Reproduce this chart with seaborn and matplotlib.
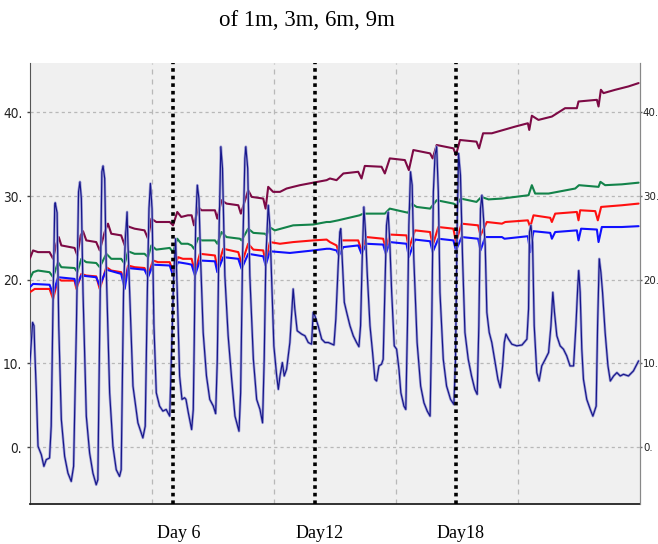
import matplotlib
matplotlib.use("Agg")
import matplotlib.pyplot as plt
from matplotlib import font_manager
import seaborn as sns
from matplotlib.transforms import offset_copy

# ---------------- text / layout data ----------------
title_text = "of 1m, 3m, 6m, 9m"
day_marks = [6, 12, 18]
day_labels = ["Day 6", "Day12", "Day18"]
grid_days = [5.08, 10.28, 15.44, 20.63]
ytick_vals = [0, 10, 20, 30, 40]
ytick_labels = ["0.", "10.", "20.", "30.", "40."]
x_range = (-0.08, 25.81)
y_range = (-6.8, 45.9)

# ---------------- series (days, temperature) ----------------
t_1m = [-0.09, 0.03, 0.09, 0.12, 0.19, 0.26, 0.40, 0.51, 0.61, 0.75, 0.82, 0.90, 0.97, 0.99, 1.07, 1.14, 1.25,
        1.39, 1.53, 1.67, 1.77, 1.89, 1.98, 2.04, 2.10, 2.17, 2.31, 2.45, 2.59, 2.73, 2.80, 2.88, 2.97, 3.02,
        3.09, 3.16, 3.30, 3.44, 3.58, 3.72, 3.79, 3.89, 3.96, 4.04, 4.08, 4.15, 4.29, 4.50, 4.71, 4.81, 4.90,
        4.97, 5.03, 5.10, 5.18, 5.28, 5.42, 5.56, 5.70, 5.85, 5.92, 6.02, 6.10, 6.17, 6.27, 6.37, 6.48,
        6.54, 6.64, 6.78, 6.85, 6.89, 6.95, 7.02, 7.09, 7.16, 7.27, 7.41, 7.55, 7.70, 7.80, 7.87, 7.95, 8.02,
        8.09, 8.19, 8.33, 8.48, 8.62, 8.79, 8.86, 8.94, 9.04, 9.08, 9.16, 9.25, 9.40, 9.54, 9.68, 9.79, 9.86,
        9.93, 10.03, 10.10, 10.17, 10.27, 10.39, 10.46, 10.53, 10.63, 10.71, 10.81, 10.95, 11.09, 11.16, 11.26,
        11.45, 11.59, 11.73, 11.87, 11.94, 12.01, 12.15, 12.30, 12.44, 12.58,
        12.82, 12.90, 13.00, 13.07, 13.11, 13.17, 13.26, 13.36, 13.50, 13.64, 13.78, 13.88, 13.95, 14.02, 14.09,
        14.16, 14.23, 14.35, 14.46, 14.56, 14.63, 14.73, 14.84, 14.91, 14.98, 15.05, 15.12, 15.19, 15.27, 15.38,
        15.48, 15.58, 15.66, 15.79, 15.87, 15.94, 16.00, 16.07, 16.14, 16.21, 16.35, 16.50, 16.64, 16.78, 16.90,
        16.97, 17.04, 17.11, 17.18, 17.25, 17.32, 17.46, 17.60, 17.77, 17.91, 17.98, 18.05, 18.11, 18.19, 18.28,
        18.38, 18.52, 18.66, 18.80, 18.90, 18.97, 19.04, 19.10,
        19.17, 19.24, 19.31, 19.41, 19.52, 19.66, 19.78, 19.88, 19.98, 20.05, 20.12, 20.23, 20.37, 20.58, 20.80,
        21.01, 21.08, 21.12, 21.18, 21.25, 21.32, 21.43, 21.53, 21.64, 21.79, 21.93, 22.03, 22.11, 22.18, 22.28,
        22.42, 22.56, 22.70, 22.84, 22.99, 23.09, 23.17, 23.21, 23.27, 23.34, 23.41, 23.55, 23.70, 23.81, 23.95,
        24.01, 24.08, 24.15, 24.22, 24.33, 24.45, 24.55, 24.69, 24.83, 24.97, 25.11, 25.32, 25.53, 25.75]
v_1m = [9.7, 14.9, 14.5, 11.7, 6.5, 0.1, -0.9, -2.3, -1.5, -1.3, 2.5, 17.7, 28.9, 29.2, 28.0, 14.5, 3.3,
        -1.1, -3.1, -4.1, -2.3, 14.5, 30.5, 31.7, 29.7, 18.5, 3.7, -0.7, -3.1, -4.5, -3.9, 14.5, 32.9, 33.6,
        32.1, 20.9, 6.5, 0.1, -2.7, -3.5, -2.7, 18.5, 24.5, 28.1, 24.1, 18.5, 7.3, 2.9, 1.1, 2.5, 18.5,
        28.5, 31.5, 28.5, 14.5, 6.5, 4.9, 4.3, 4.5, 3.7, 10.5, 20.5, 24.9, 18.5, 8.5, 5.7, 5.9,
        5.7, 4.1, 2.1, 4.5, 12.5, 26.5, 31.3, 29.7, 22.5, 13.7, 8.5, 5.7, 4.9, 4.0, 10.5, 26.5, 35.9,
        33.3, 20.5, 13.3, 8.1, 3.7, 1.9, 6.5, 22.5, 34.5, 35.9, 33.3, 20.5, 10.5, 5.7, 4.5, 2.9, 10.5,
        22.5, 28.9, 26.5, 20.5, 12.1, 8.5, 6.9, 8.5, 10.1, 8.5, 9.3, 12.5, 18.9, 16.5, 13.9,
        13.5, 13.3, 12.5, 12.3, 16.1, 15.7, 14.5, 12.9, 12.5, 12.5,
        12.2, 15.3, 21.7, 25.7, 26.1, 22.5, 17.3, 16.1, 14.5, 13.3, 12.5, 12.0, 14.5, 22.5, 28.7,
        25.7, 20.9, 14.5, 11.3, 8.1, 7.9, 9.7, 9.9, 10.5, 18.5, 26.5, 28.1, 24.5, 18.5, 12.1,
        11.7, 9.3, 6.5, 4.9, 4.5, 14.5, 26.5, 32.9, 31.3, 22.5, 12.5, 7.3, 5.3, 4.3, 3.7,
        14.5, 30.5, 34.9, 35.9, 30.5, 18.5, 10.5, 7.3, 5.7, 5.1, 10.5, 26.5, 35.1, 32.5, 22.5,
        13.7, 10.5, 8.5, 6.9, 6.3, 14.5, 28.5, 30.1,
        27.3, 24.1, 16.1, 13.7, 12.5, 10.1, 8.1, 7.1, 9.7, 12.5, 13.5, 12.9, 12.3, 12.1, 12.2,
        12.9, 16.5, 25.7, 26.5, 24.5, 14.5, 8.9, 7.9, 9.7, 10.5, 11.3, 14.5, 18.5, 16.1, 13.3,
        12.1, 11.7, 10.9, 9.7, 9.7, 14.5, 19.3, 21.1, 18.5, 11.7, 8.1, 5.7, 4.5, 3.7, 4.9,
        14.5, 22.5, 20.9, 18.5, 13.7, 9.7, 7.9, 8.5, 8.9, 8.5, 8.7, 8.5, 9.1, 10.3]

t_3m = [-0.09, 0.05, 0.75, 0.90, 1.11, 1.81, 1.89, 2.10, 2.73, 2.88, 3.16, 3.79, 3.94, 4.08, 4.78, 4.93, 5.14,
        5.85, 5.99, 6.20, 6.62, 6.78, 6.92, 7.13, 7.77, 7.87, 8.12, 8.76, 8.90, 9.18, 9.82, 9.92, 10.10, 10.95,
        11.94, 12.51, 12.65, 12.93, 13.03, 13.22, 13.85, 13.99, 14.20, 14.91, 15.02, 15.19, 15.90, 16.00, 16.26,
        16.90, 17.01, 17.25, 17.89, 18.00, 18.24, 18.94, 19.04, 19.24, 19.95, 20.06, 21.05, 21.15, 21.29, 22.00,
        22.07, 22.21, 23.13, 23.20, 23.31, 23.98, 24.05, 24.19, 25.04, 25.75]
v_3m = [19.1, 19.5, 19.4, 18.3, 20.3, 20.1, 19.3, 20.5, 20.3, 19.3, 21.2, 20.7, 18.9, 21.4, 21.2, 20.3, 21.8,
        21.7, 20.5, 22.1, 21.9, 21.8, 20.5, 22.3, 22.2, 20.9, 22.7, 22.5, 21.3, 23.1, 22.8, 21.7, 23.4, 23.2,
        23.5, 23.7, 23.7, 23.5, 22.9, 23.9, 24.1, 23.1, 24.3, 24.2, 23.1, 24.5, 24.3, 22.7, 24.8,
        24.6, 23.3, 24.9, 24.7, 23.5, 25.1, 24.9, 23.5, 25.1, 25.1, 24.9, 25.2, 23.3, 25.8, 25.6,
        24.9, 25.7, 25.9, 24.7, 26.1, 26.0, 24.5, 26.3, 26.3, 26.4]

t_6m = [-0.09, 0.12, 0.75, 0.90, 1.11, 1.25, 1.81, 1.89, 2.10, 2.31, 2.73, 2.88, 3.16, 3.37, 3.79, 3.94, 4.08,
        4.36, 4.78, 4.93, 5.14, 5.35, 5.85, 5.99, 6.20, 6.41, 6.62, 6.78, 6.92, 7.13, 7.77, 7.87, 8.12, 8.76,
        8.90, 9.18, 9.40, 9.82, 9.92, 10.10, 10.53, 11.09, 11.94, 12.51, 12.65, 12.93, 13.00, 13.14, 13.85,
        13.99, 14.20, 14.91, 15.02, 15.19, 15.90, 16.00, 16.26, 16.90, 17.01, 17.25, 17.89, 18.00, 18.24, 18.94,
        19.04, 19.31, 19.95, 20.09, 21.05, 21.15, 21.29, 22.00, 22.07, 22.21, 23.13, 23.20, 23.27, 23.91, 24.02,
        24.16, 25.04, 25.75]
v_6m = [18.5, 18.9, 18.9, 17.7, 20.1, 19.9, 19.9, 18.9, 20.7, 20.5, 20.4, 18.9, 21.5, 21.1, 20.9, 19.7, 21.7,
        21.5, 21.4, 20.5, 22.3, 22.1, 22.1, 20.9, 22.7, 22.5, 22.5, 22.5, 20.9, 23.1, 22.9, 21.3, 23.7, 23.3,
        21.9, 24.3, 23.6, 23.5, 22.1, 24.5, 24.3, 24.5, 24.7, 24.8, 24.5, 24.1, 23.5, 24.7, 24.7,
        23.5, 25.1, 24.9, 23.7, 25.4, 25.3, 23.7, 25.9, 25.7, 24.1, 26.3, 26.1, 24.5, 26.7, 26.5,
        25.3, 26.9, 26.7, 26.9, 27.1, 26.3, 27.7, 27.4, 26.9, 27.9, 28.1, 27.1, 28.3, 28.2, 27.1,
        28.7, 28.9, 29.1]

t_9m = [-0.09, 0.05, 0.26, 0.75, 0.90, 1.11, 1.25, 1.81, 1.93, 2.10, 2.31, 2.73, 2.88, 3.16, 3.37, 3.79, 3.94,
        4.08, 4.36, 4.78, 4.93, 5.07, 5.28, 5.85, 5.99, 6.17, 6.34, 6.62, 6.78, 6.88, 7.06, 7.20, 7.77, 7.87,
        8.05, 8.26, 8.83, 8.90, 9.18, 9.40, 9.89, 9.96, 10.08, 10.31, 11.09, 11.94, 12.51, 12.65, 13.00, 13.91,
        14.06, 14.98, 15.19, 15.97, 16.11, 16.33, 16.90, 17.18, 17.89, 18.03, 18.20, 18.87, 19.08, 19.38, 19.95,
        21.08, 21.22, 21.36, 21.93, 23.06, 23.22, 24.05, 24.13, 24.33, 25.04, 25.75]
v_9m = [20.1, 20.9, 21.1, 20.9, 20.3, 22.1, 21.5, 21.4, 20.9, 22.5, 22.1, 22.0, 21.5, 23.1, 22.5, 22.5, 21.9,
        23.4, 23.1, 23.1, 22.7, 24.1, 23.6, 23.8, 23.3, 24.9, 24.3, 24.3, 24.1, 23.7, 25.0, 24.7, 24.7, 24.3,
        25.7, 25.1, 24.9, 24.7, 26.1, 25.6, 25.5, 25.3, 26.3, 25.9, 26.5, 26.6, 26.9, 26.9, 27.1, 27.7,
        27.9, 27.9, 28.5, 28.0, 29.1, 28.7, 28.5, 29.5, 29.1, 28.9, 29.7, 29.3, 29.9, 29.6, 29.7,
        30.1, 31.3, 30.3, 30.3, 30.9, 31.3, 31.1, 31.7, 31.3, 31.4, 31.6]

t_deep = [-0.09, 0.05, 0.26, 0.75, 0.90, 1.04, 1.14, 1.25, 1.81, 1.93, 2.07, 2.17, 2.31, 2.73, 2.88, 3.09,
          3.23, 3.37, 3.79, 3.94, 4.01, 4.15, 4.36, 4.78, 4.93, 5.07, 5.28, 5.85, 5.99, 6.17, 6.34, 6.62,
          6.78, 6.88, 7.06, 7.20, 7.77, 7.87, 8.05, 8.26, 8.76, 8.87, 9.18, 9.33, 9.82, 9.92, 10.03, 10.24,
          10.53, 10.81, 11.09, 11.38, 11.94, 12.51, 12.65, 12.93, 13.22, 13.85, 13.99, 14.13, 14.84, 14.98,
          15.19, 15.83, 16.00, 16.19, 16.90, 17.01, 17.18, 17.89, 18.00, 18.17, 18.87, 18.98, 19.15, 19.52,
          20.51, 21.05, 21.11, 21.22, 21.50, 22.07, 22.63, 23.13, 23.20, 23.98, 24.05, 24.15, 24.26, 24.76,
          25.32, 25.75]
v_deep = [22.5, 23.5, 23.3, 23.3, 22.5, 24.3, 25.1, 24.1, 23.8, 22.9, 25.3, 25.8, 24.7, 24.5, 23.5, 25.7,
          26.7, 25.5, 25.3, 24.1, 26.5, 26.3, 26.1, 25.9, 24.9, 27.3, 26.9, 26.9, 26.5, 28.1, 27.5, 27.7,
          27.7, 26.5, 28.7, 28.3, 28.3, 27.3, 29.5, 29.1, 28.9, 27.9, 30.7, 29.9, 29.7, 28.5, 31.1, 30.5,
          30.5, 30.9, 31.1, 31.3, 31.6, 31.9, 32.1, 31.9, 32.7, 32.9, 32.1, 33.6, 33.5, 32.7,
          34.5, 34.3, 33.1, 35.5, 35.1, 34.5, 36.1, 35.7, 34.9, 36.7, 36.5, 35.7, 37.5, 37.5,
          38.3, 38.7, 37.9, 39.6, 39.1, 39.5, 40.5, 40.5, 41.3, 41.5, 40.7, 42.7, 42.3, 42.7,
          43.1, 43.5]

# ---------------- drawing ----------------
sns.set_style("white")
plt.rcParams["font.family"] = ["DejaVu Sans"]
serif = ["Liberation Serif", "DejaVu Serif"]

installed = {f.name for f in font_manager.fontManager.ttflist}
if "Liberation Sans Narrow" in installed:
    left_font = dict(fontfamily="Liberation Sans Narrow", fontsize=10)
    right_font = dict(fontfamily="Liberation Sans Narrow", fontsize=10)
else:
    left_font = dict(fontfamily="DejaVu Sans", fontstretch="condensed", fontsize=9.8)
    right_font = dict(fontfamily="DejaVu Sans", fontstretch="condensed", fontsize=8.2)

fig = plt.figure(figsize=(6.58, 5.44), dpi=100)
ax = fig.add_axes([30 / 658, 40 / 544, 610 / 658, 441 / 544])
ax.set_facecolor("#f0f0f0")
ax.set_xlim(*x_range)
ax.set_ylim(*y_range)

# grid
for g in grid_days:
    ax.axvline(g, color="#b8b8b8", lw=0.9, ls=(0, (4, 4)), zorder=0.5)
ax.set_yticks(ytick_vals)
ax.yaxis.grid(True, color="#b8b8b8", lw=0.9, ls=(0, (2.5, 2.5)))
ax.set_axisbelow(True)

series = [
    (t_deep, v_deep, "#7d0a45"),
    (t_9m, v_9m, "#13834a"),
    (t_6m, v_6m, "#ff1010"),
    (t_3m, v_3m, "#1010ff"),
]
for t, v, c in series:
    sns.lineplot(x=t, y=v, ax=ax, color=c, lw=1.5, estimator=None, sort=False, zorder=3)

sns.lineplot(x=t_1m, y=v_1m, ax=ax, color="#a0a0d6", lw=1.9, estimator=None, sort=False, zorder=4)
sns.lineplot(x=t_1m, y=v_1m, ax=ax, color="#16168a", lw=0.85, estimator=None, sort=False, zorder=5)

for d in day_marks:
    ax.axvline(d, color="black", lw=2.6, ls=(0, (1, 1.1)), zorder=6)

# spines
ax.spines["top"].set_visible(False)
ax.spines["left"].set_color("#555555")
ax.spines["right"].set_color("#888888")
ax.spines["bottom"].set_color("#222222")
ax.spines["bottom"].set_linewidth(1.3)

# ticks
ax.set_yticklabels(ytick_labels, color="#222222", **left_font)
ax.tick_params(axis="y", left=True, length=2.5, width=1, color="#444444", pad=3)
ax.set_xticks([x_range[0]])
ax.set_xticks([x_range[1]], minor=True)
ax.set_xticklabels([])
ax.tick_params(axis="x", which="major", length=10, width=1, color="#555555")
ax.tick_params(axis="x", which="minor", length=3.5, width=1, color="#888888")
ax.set_xlabel("")
ax.set_ylabel("")

ax2 = ax.twinx()
ax2.set_ylim(*y_range)
ax2.set_yticks(ytick_vals)
ax2.set_yticklabels(ytick_labels, color="#222222", **right_font)
ax2.tick_params(axis="y", right=True, length=1.5, width=1, color="#666666", pad=0.6)
for s in ["top", "left", "bottom"]:
    ax2.spines[s].set_visible(False)
ax2.spines["right"].set_color("#888888")

# day labels under axis
trans = offset_copy(ax.get_xaxis_transform(), fig=fig, x=5, y=0, units="dots")
for d, lab in zip(day_marks, day_labels):
    ax.text(d, -0.066, lab, transform=trans, ha="center", va="center",
            fontfamily=serif, fontsize=13, color="black")

fig.text(307 / 658, 1 - 20 / 544, title_text, ha="center", va="center",
         fontfamily=serif, fontsize=16.5, color="black")

fig.savefig("out.png", dpi=100)
